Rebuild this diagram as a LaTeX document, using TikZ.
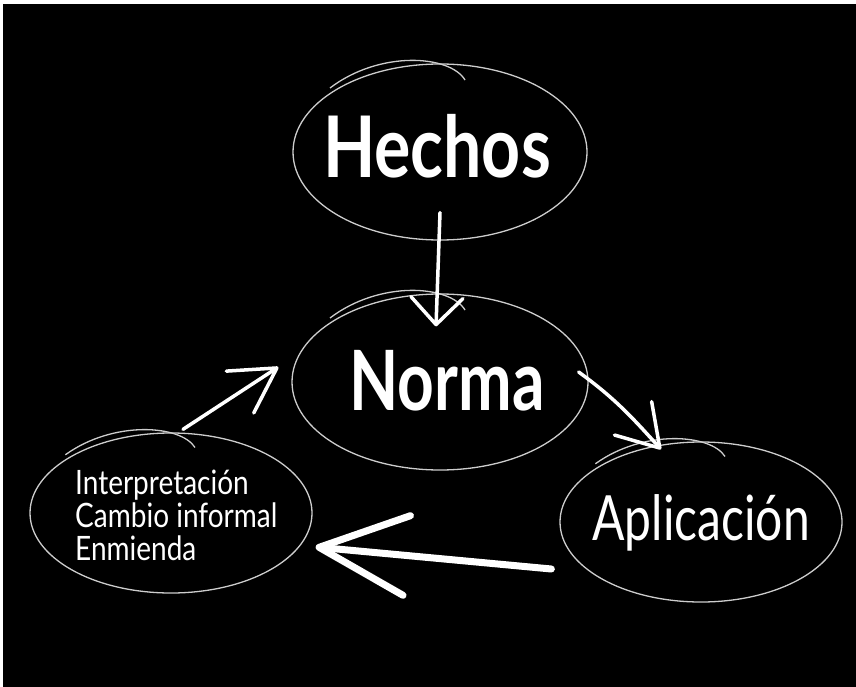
\documentclass[tikz,border=0pt]{standalone}
\usepackage{fontspec}
\setmainfont{Lato}
\usetikzlibrary{shapes.geometric,arrows.meta}
\definecolor{chalkgrey}{RGB}{205,205,205}
\newcommand{\tall}[2][1.3]{\scalebox{1}[#1]{#2}}
\tikzset{
  bubble/.style={ellipse, draw=chalkgrey, line width=1.3pt, inner sep=0pt},
  loopline/.style={draw=chalkgrey, line width=1.3pt},
  bigword/.style={text=white, anchor=base, font=\fontsize{64}{64}\selectfont\bfseries},
  chalk/.style={draw=white, line width=3.5pt, line cap=round, line join=round},
}

\begin{document}
\begin{tikzpicture}[x=1pt,y=-1pt]
  \fill[white] (0,0) rectangle (856,687);
  \fill[black] (3,4) rectangle (856,687);
  \useasboundingbox (0,0) rectangle (856,687);

  \node[bubble, minimum width=294pt, minimum height=176pt] (hechos) at (440,152) {};
  \node[bubble, minimum width=296pt, minimum height=176pt] (norma) at (440,382) {};
  \node[bubble, minimum width=282pt, minimum height=160pt] (cambio) at (171,513) {};
  \node[bubble, minimum width=282pt, minimum height=160pt] (aplicacion) at (701,522) {};

  % extra stroke where each circle was started
  \foreach \n/\sx/\sy in {hechos/1/1, norma/1/1, cambio/0.96/0.91, aplicacion/0.96/0.91}
    \draw[loopline, shift={(\n.center)}, xscale=\sx, yscale=\sy] (-110,-64) .. controls (-60,-102) and (10,-97) .. (25,-72);

  \node[bigword, font=\fontsize{68}{68}\selectfont\bfseries] (hechostext) at (437,178) {\tall[1.25]{Hechos}};
  \node[bigword] (normatext) at (447,410) {\tall{Norma}};
  \node[bigword, font=\fontsize{48}{48}\selectfont] (aplicaciontext) at (701,540) {\tall[1.3]{Aplicación}};
  \node[text=white, anchor=west, align=left, inner sep=0pt, font=\fontsize{28}{33}\selectfont] (cambiotext) at (75,515)
    {\tall[1.2]{Interpretación}\\\tall[1.2]{Cambio informal}\\\tall[1.2]{Enmienda}};

  \draw[chalk, -{Straight Barb[length=27pt,width=52pt,round]}] ([shift={(0,-28)}]hechos.south) -- ([shift={(-4,33)}]norma.north);
  \draw[chalk, -{Straight Barb[length=40pt,width=50pt,round]}] ([shift={(-10,-10)}]norma.east) to[out=-36,in=132] ([shift={(-40,8)}]aplicacion.north);
  \draw[chalk, line width=7pt, -{Straight Barb[length=88pt,width=80pt,round]}] ([shift={(-8,47)}]aplicacion.west) -- ([shift={(3,34)}]cambio.east);
  \draw[chalk, -{Straight Barb[length=44pt,width=50pt,round]}] ([shift={(12,-3)}]cambio.north) -- ([shift={(-13,-15)}]norma.west);
\end{tikzpicture}
\end{document}
